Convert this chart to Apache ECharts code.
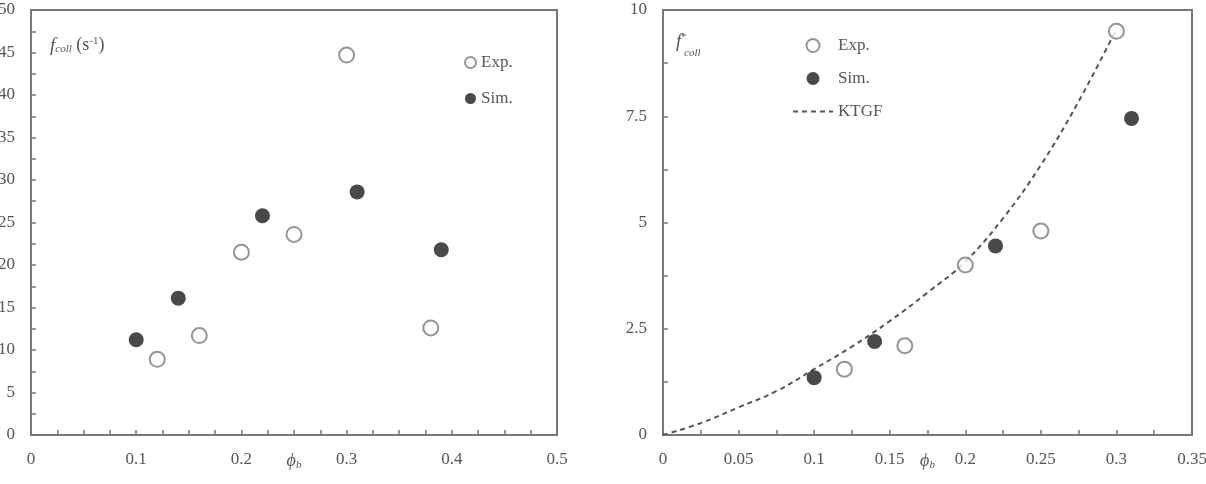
<!DOCTYPE html>
<html>
<head>
<meta charset="utf-8">
<script src="https://cdn.jsdelivr.net/npm/echarts@6/dist/echarts.min.js"></script>
<style>
  html, body { margin: 0; padding: 0; background: #fff; }
  #chart { width: 1206px; height: 484px; }
</style>
</head>
<body>
<div id="chart"></div>
<script>
// left panel: collision frequency f_coll (1/s)
const expLeft = [[0.12, 8.9], [0.16, 11.7], [0.2, 21.5], [0.25, 23.6], [0.3, 44.7], [0.38, 12.6]]
const simLeft = [[0.1, 11.2], [0.14, 16.1], [0.22, 25.8], [0.31, 28.6], [0.39, 21.8]]

// right panel: dimensionless f*_coll
const expRight = [[0.12, 1.55], [0.16, 2.1], [0.2, 4.0], [0.25, 4.8], [0.3, 9.5]]
const simRight = [[0.1, 1.35], [0.14, 2.2], [0.22, 4.45], [0.31, 7.45]]
const ktgfX = [0, 0.025, 0.05, 0.075, 0.1, 0.125, 0.15, 0.175, 0.2, 0.225, 0.25, 0.275, 0.3]
const ktgfY = [0, 0.28, 0.65, 1.03, 1.55, 2.08, 2.68, 3.35, 4.08, 5.1, 6.35, 7.85, 9.55]

const font = 'Liberation Serif'
const textColor = '#555'
const axisColor = '#777'

const chart = echarts.init(document.getElementById('chart'))

function xAxisOf(gridIndex, max, interval, minorSplit) {
  return {
    type: 'value',
    gridIndex,
    min: 0,
    max,
    interval,
    name: '{phi|ϕ}{sub|b}',
    nameLocation: 'middle',
    nameGap: 17,
    nameMoveOverlap: false,
    nameTextStyle: {
      rich: {
        phi: { fontFamily: font, fontStyle: 'italic', fontSize: 18, color: textColor },
        sub: { fontFamily: font, fontStyle: 'italic', fontSize: 11, color: textColor, verticalAlign: 'bottom', padding: [8, 0, 0, 0] }
      }
    },
    axisLine: { onZero: false, lineStyle: { color: axisColor, width: 2 } },
    axisTick: { inside: true, length: 5, lineStyle: { color: axisColor, width: 1.5 } },
    minorTick: { show: true, splitNumber: minorSplit, length: 5, lineStyle: { color: axisColor, width: 1.5 } },
    axisLabel: { fontFamily: font, fontSize: 17, color: textColor, margin: 16 },
    splitLine: { show: false }
  }
}

function yAxisOf(gridIndex, max, interval) {
  return {
    type: 'value',
    gridIndex,
    min: 0,
    max,
    interval,
    axisLine: { show: true, onZero: false, lineStyle: { color: axisColor, width: 2 } },
    axisTick: { show: true, inside: true, length: 5, lineStyle: { color: axisColor, width: 1.5 } },
    minorTick: { show: true, splitNumber: 2, length: 5, lineStyle: { color: axisColor, width: 1.5 } },
    axisLabel: { fontFamily: font, fontSize: 17, color: textColor, margin: 16 },
    splitLine: { show: false }
  }
}

const expStyle = { color: '#fff', borderColor: '#7a7a7a', borderWidth: 2 }
const simStyle = { color: '#1c1c1c' }

chart.setOption({
  backgroundColor: '#fff',
  animation: false,
  grid: [
    { left: 31, top: 10, width: 526, height: 425, outerBoundsMode: 'none', show: true, borderColor: axisColor, borderWidth: 2 },
    { left: 663, top: 10, width: 529, height: 425, outerBoundsMode: 'none', show: true, borderColor: axisColor, borderWidth: 2 }
  ],
  xAxis: [
    xAxisOf(0, 0.5, 0.1, 4),
    xAxisOf(1, 0.35, 0.05, 2)
  ],
  yAxis: [
    yAxisOf(0, 50, 5),
    yAxisOf(1, 10, 2.5)
  ],
  legend: [
    {
      orient: 'vertical',
      left: 459,
      top: 49,
      itemWidth: 11,
      itemHeight: 11,
      itemGap: 19,
      data: ['Exp.', 'Sim.'],
      textStyle: { fontFamily: font, fontSize: 17, color: textColor }
    },
    {
      orient: 'vertical',
      left: 787,
      top: 32,
      itemWidth: 40,
      itemHeight: 13,
      itemGap: 16,
      data: ['Exp.', 'Sim.', { name: 'KTGF', itemStyle: { opacity: 0 } }],
      textStyle: { fontFamily: font, fontSize: 17, color: textColor }
    }
  ],
  graphic: [
    {
      type: 'text',
      left: 50,
      top: 36,
      style: {
        text: '{f|f}{sub|coll}{n| (s}{sup|-1}{n|)}',
        rich: {
          f: { fontFamily: font, fontStyle: 'italic', fontSize: 19, fill: textColor },
          sub: { fontFamily: font, fontStyle: 'italic', fontSize: 11, fill: textColor, padding: [8, 0, 0, 0] },
          n: { fontFamily: font, fontSize: 18, fill: textColor },
          sup: { fontFamily: font, fontSize: 11, fill: textColor, padding: [0, 0, 8, 0] }
        }
      }
    },
    {
      type: 'text',
      left: 676,
      top: 32,
      style: {
        text: '{f|f}{sup|*}\n',
        rich: {
          f: { fontFamily: font, fontStyle: 'italic', fontSize: 19, fill: textColor },
          sup: { fontFamily: font, fontSize: 10, fill: textColor, padding: [0, 0, 10, 0] }
        }
      }
    },
    {
      type: 'text',
      left: 684,
      top: 48,
      style: { text: 'coll', fontFamily: font, fontStyle: 'italic', fontSize: 11, fill: textColor }
    }
  ],
  series: [
    { name: 'Exp.', type: 'scatter', xAxisIndex: 0, yAxisIndex: 0, symbolSize: 15, itemStyle: expStyle, data: expLeft, z: 3 },
    { name: 'Sim.', type: 'scatter', xAxisIndex: 0, yAxisIndex: 0, symbolSize: 15, itemStyle: simStyle, data: simLeft, z: 3 },
    {
      name: 'KTGF',
      type: 'line',
      xAxisIndex: 1,
      yAxisIndex: 1,
      smooth: 0.4,
      symbol: 'none',
      lineStyle: { color: '#555', width: 2, type: [5, 4] },
      itemStyle: { color: '#555' },
      data: ktgfX.map((x, i) => [x, ktgfY[i]]),
      z: 2
    },
    { name: 'Exp.', type: 'scatter', xAxisIndex: 1, yAxisIndex: 1, symbolSize: 15, itemStyle: expStyle, data: expRight, z: 3 },
    { name: 'Sim.', type: 'scatter', xAxisIndex: 1, yAxisIndex: 1, symbolSize: 15, itemStyle: simStyle, data: simRight, z: 3 }
  ]
})
</script>
</body>
</html>
